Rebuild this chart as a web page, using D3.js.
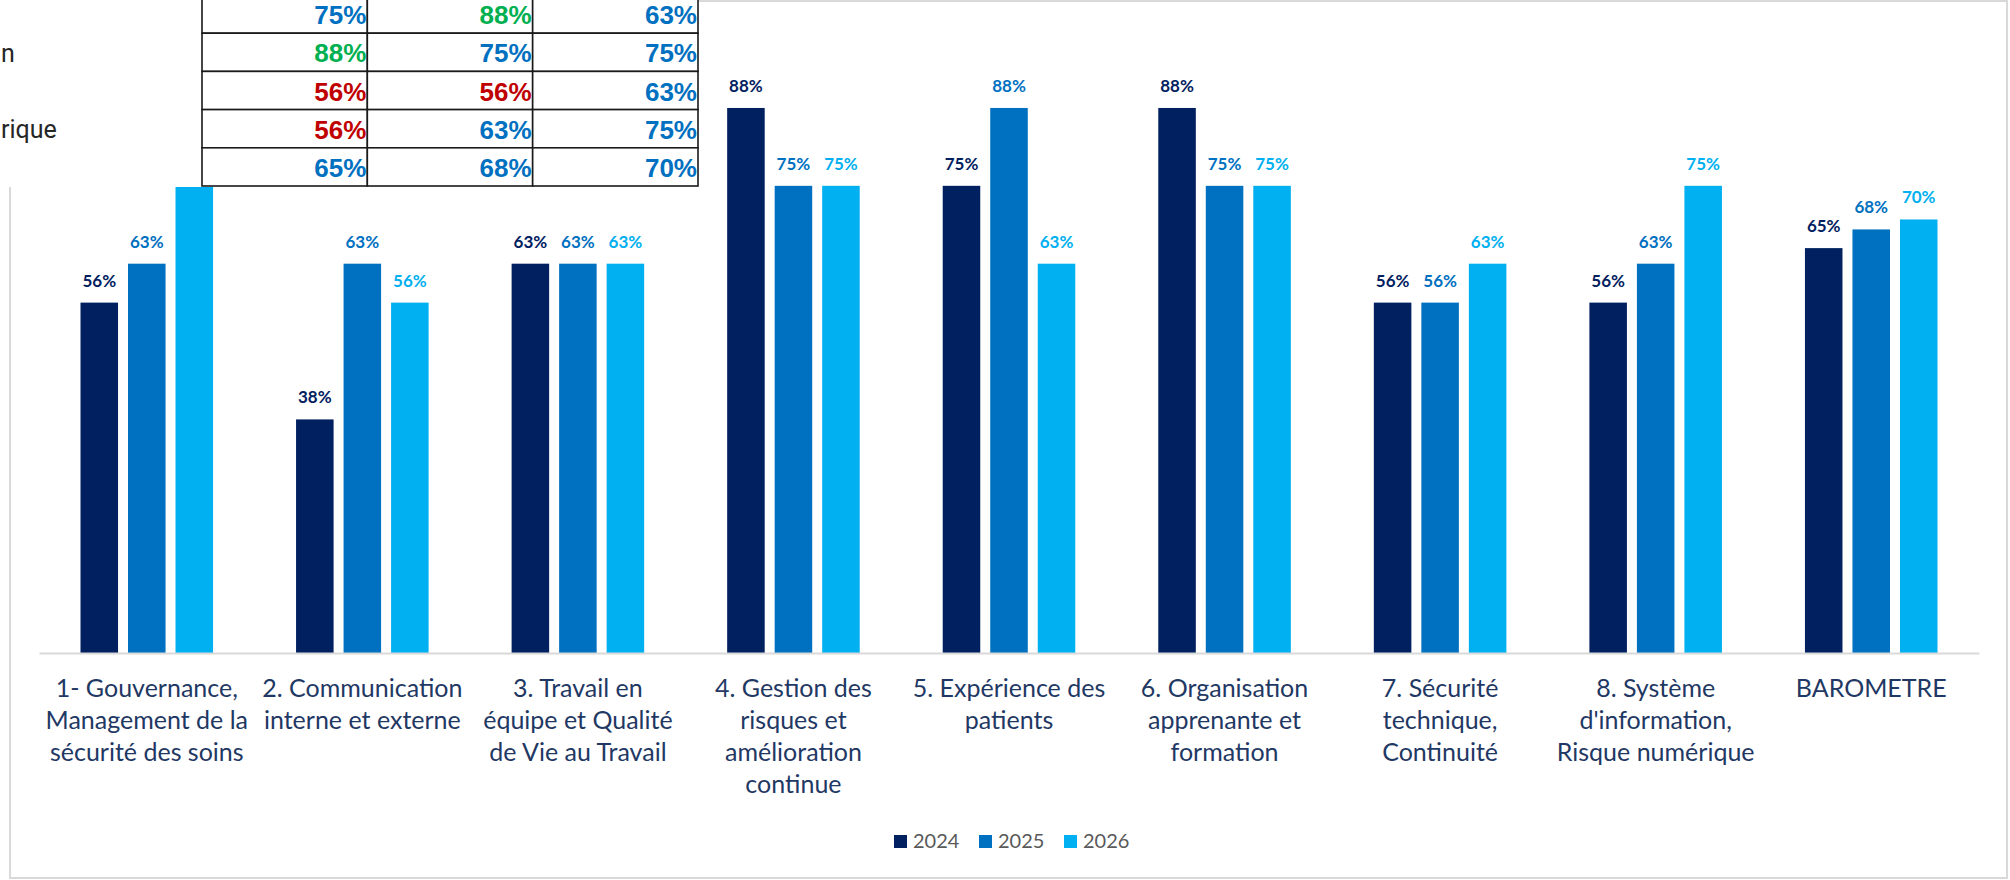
<!DOCTYPE html>
<html>
<head>
<meta charset="utf-8">
<script src="https://cdn.jsdelivr.net/npm/d3@7"></script>
<style>
  body { margin: 0; background: #ffffff; }
  svg { display: block; }
</style>
</head>
<body>
<div id="graf"></div>
<script>
// Baromètre par thématique 2024 / 2025 / 2026

// Données
const years = ['2024', '2025', '2026']
const categories = [
  ['1- Gouvernance,', 'Management de la', 'sécurité des soins'],
  ['2. Communication', 'interne et externe'],
  ['3. Travail en', 'équipe et Qualité', 'de Vie au Travail'],
  ['4. Gestion des', 'risques et', 'amélioration', 'continue'],
  ['5. Expérience des', 'patients'],
  ['6. Organisation', 'apprenante et', 'formation'],
  ['7. Sécurité', 'technique,', 'Continuité'],
  ['8. Système', "d'information,", 'Risque numérique'],
  ['BAROMETRE']
]
const v2024 = [56.25, 37.5, 62.5, 87.5, 75, 87.5, 56.25, 56.25, 65]
const v2025 = [62.5, 62.5, 62.5, 75, 87.5, 75, 56.25, 62.5, 68]
const v2026 = [87.5, 56.25, 62.5, 75, 62.5, 75, 62.5, 75, 69.6]

// Tableau collé par-dessus (5 dernières lignes visibles)
const tableRows = [
  [75, 88, 63],
  [88, 75, 75],
  [56, 56, 63],
  [56, 63, 75],
  [65, 68, 70]
]
const fragments = ['n', 'rique']

const colors = ['#002060', '#0070C0', '#00B0F0']

const W = 2010, H = 880
const svg = d3.select('#graf').append('svg')
  .attr('width', W)
  .attr('height', H)

// Cadre du graphique
svg.append('rect')
  .attr('x', 10).attr('y', 1)
  .attr('width', 1997).attr('height', 877)
  .attr('fill', '#ffffff')
  .attr('stroke', '#d9d9d9')
  .attr('stroke-width', 2)

// Echelles
const base = 653
const x0 = d3.scaleBand().domain(d3.range(categories.length)).range([39, 1979])
const x1 = d3.scaleBand().domain(years)
  .range([41.5, x0.bandwidth() - 41.5])
  .paddingInner(0.21)
const y = d3.scaleLinear().domain([0, 100]).range([base, base - 622.9])

const series = [v2024, v2025, v2026]
const data = []
categories.forEach((c, i) => {
  years.forEach((yr, j) => data.push({ cat: i, year: yr, j: j, value: series[j][i] }))
})

const g = svg.append('g')

g.selectAll('rect.bar')
  .data(data)
  .enter().append('rect')
    .attr('class', 'bar')
    .attr('x', d => x0(d.cat) + x1(d.year))
    .attr('y', d => y(d.value))
    .attr('width', x1.bandwidth())
    .attr('height', d => base - y(d.value))
    .attr('fill', d => colors[d.j])

g.selectAll('text.lbl')
  .data(data)
  .enter().append('text')
    .attr('class', 'lbl')
    .attr('x', d => x0(d.cat) + x1(d.year) + x1.bandwidth() / 2)
    .attr('y', d => y(d.value) - 16)
    .attr('text-anchor', 'middle')
    .attr('font-family', 'Candara, Lato, sans-serif')
    .attr('font-weight', 700)
    .attr('font-size', '17px')
    .attr('fill', d => colors[d.j])
    .text(d => Math.round(d.value) + '%')

// Axe des catégories
const axis = svg.append('g')
  .attr('transform', `translate(0, ${base})`)
  .call(d3.axisBottom(x0).tickSize(0).tickSizeOuter(0).tickFormat(''))
axis.select('.domain').attr('stroke', '#d9d9d9').attr('stroke-width', 2)

axis.selectAll('.tick text').remove()
axis.selectAll('.tick').append('text')
  .attr('text-anchor', 'middle')
  .attr('font-family', 'Candara, Lato, sans-serif')
  .attr('font-size', '25px')
  .attr('fill', '#1f3864')
  .each(function (i) {
    const t = d3.select(this)
    categories[i].forEach((line, k) => {
      t.append('tspan').attr('x', 0).attr('y', 44 + k * 32).text(line)
    })
  })

// Légende
const legend = svg.append('g')
const lx = d3.scalePoint().domain(years).range([894, 1064])
legend.selectAll('rect')
  .data(years)
  .enter().append('rect')
    .attr('x', d => lx(d))
    .attr('y', 835)
    .attr('width', 13).attr('height', 13)
    .attr('fill', (d, i) => colors[i])
legend.selectAll('text')
  .data(years)
  .enter().append('text')
    .attr('x', d => lx(d) + 19)
    .attr('y', 848)
    .attr('font-family', 'Candara, Lato, sans-serif')
    .attr('font-size', '20px')
    .attr('fill', '#595959')
    .text(d => d)

// Zone collée en haut à gauche (cache le haut du graphique)
const over = svg.append('g')
over.append('rect')
  .attr('x', 0).attr('y', 0)
  .attr('width', 699).attr('height', 187)
  .attr('fill', '#ffffff')

over.selectAll('text.frag')
  .data(fragments)
  .enter().append('text')
    .attr('class', 'frag')
    .attr('x', 1)
    .attr('y', (d, i) => i == 0 ? 62 : 138)
    .attr('font-family', 'Roboto, Arial, sans-serif')
    .attr('font-size', '25px')
    .attr('fill', '#262626')
    .text(d => d)

const cx = d3.scaleBand().domain([0, 1, 2]).range([202, 698])
const ry = d3.scaleBand().domain(d3.range(tableRows.length)).range([-5, 186])

const cells = []
tableRows.forEach((row, r) => row.forEach((v, c) => cells.push({ r: r, c: c, v: v })))

over.selectAll('rect.cell')
  .data(cells)
  .enter().append('rect')
    .attr('class', 'cell')
    .attr('x', d => cx(d.c))
    .attr('y', d => ry(d.r))
    .attr('width', cx.bandwidth())
    .attr('height', ry.bandwidth())
    .attr('fill', '#ffffff')
    .attr('stroke', '#1a1a1a')
    .attr('stroke-width', 1.6)

function cellColor(v) {
  if (v >= 80) return '#00b050'
  if (v < 60) return '#c00000'
  return '#0070c0'
}

over.selectAll('text.val')
  .data(cells)
  .enter().append('text')
    .attr('class', 'val')
    .attr('x', d => cx(d.c) + cx.bandwidth() - 1)
    .attr('y', d => ry(d.r) + ry.bandwidth() - 9)
    .attr('text-anchor', 'end')
    .attr('font-family', '"Liberation Sans", Arial, sans-serif')
    .attr('font-weight', 700)
    .attr('font-size', '26px')
    .attr('fill', d => cellColor(d.v))
    .text(d => d.v + '%')
</script>
</body>
</html>
